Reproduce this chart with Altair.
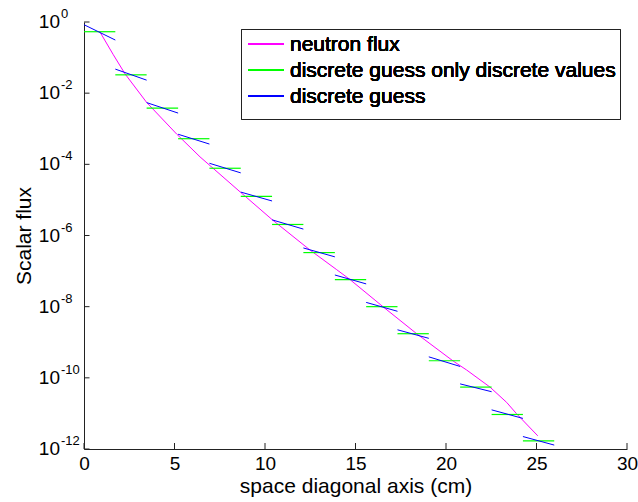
import altair as alt
import pandas as pd

# ---- data ----
cell_edges = [0.0, 1.73, 3.46, 5.20, 6.93, 8.66, 10.39, 12.12, 13.86, 15.59,
              17.32, 19.05, 20.78, 22.52, 24.25, 25.98]
# log10 of the flux values
green_log10 = [-0.273, -1.485, -2.42, -3.28, -4.11, -4.90, -5.69, -6.48, -7.24,
               -8.00, -8.76, -9.52, -10.26, -11.03, -11.77]
blue_left_log10 = [-0.076, -1.324, -2.265, -3.155, -3.97, -4.78, -5.56, -6.35,
                   -7.11, -7.88, -8.65, -9.41, -10.17, -10.90, -11.65]
blue_right_log10 = [-0.507, -1.634, -2.56, -3.43, -4.24, -5.03, -5.82, -6.60,
                    -7.36, -8.13, -8.89, -9.68, -10.39, -11.14, -11.89]
flux_x = [0.87, 1.62, 2.27, 3.46, 5.12, 6.41, 8.66, 10.43, 12.49, 13.96, 14.70,
          16.54, 18.38, 20.40, 21.14, 22.43, 23.35, 23.90, 25.07]
flux_log10 = [-0.27, -0.92, -1.46, -2.26, -3.15, -3.79, -4.79, -5.57, -6.41, -6.96,
              -7.24, -8.01, -8.76, -9.53, -9.78, -10.26, -10.69, -11.01, -11.63]
y_tick_exponents = [0, -2, -4, -6, -8, -10, -12]
x_ticks = [0, 5, 10, 15, 20, 25, 30]
legend_labels = ["neutron flux", "discrete guess only discrete values", "discrete guess"]
legend_colors = ["#FF00FF", "#00FF00", "#0000FF"]

FONT = "Liberation Sans"
W, H = 543, 427

cells = pd.DataFrame({
    "x0": cell_edges[:-1],
    "x1": cell_edges[1:],
    "g": [10 ** v for v in green_log10],
    "bl": [10 ** v for v in blue_left_log10],
    "br": [10 ** v for v in blue_right_log10],
})
flux = pd.DataFrame({"x": flux_x, "y": [10 ** v for v in flux_log10]})
yt = pd.DataFrame({"v": [10.0 ** e for e in y_tick_exponents],
                   "e": [str(e) for e in y_tick_exponents]})
xt = pd.DataFrame({"t": x_ticks})

xs = alt.Scale(domain=[0, 30], nice=False, zero=False)
ys = alt.Scale(type="log", domain=[1e-12, 1], nice=False)

x_axis = alt.Axis(values=x_ticks, ticks=False, grid=False, labelPadding=5,
                  labelFontSize=19, labelFont=FONT, labelColor="black",
                  labelFlush=False, labelOverlap=False, labelBound=False,
                  title="space diagonal axis (cm)", titleFont=FONT, titleFontSize=21,
                  titleFontWeight="normal", titleColor="black", titleY=43.5,
                  titleBaseline="alphabetic", domainColor="#222222", domainWidth=1)
y_axis = alt.Axis(values=[10.0 ** e for e in y_tick_exponents], labels=False,
                  ticks=False, grid=False, title="Scalar flux", titleFont=FONT,
                  titleFontSize=21, titleFontWeight="normal", titleColor="black",
                  titleX=-54, titleY=H / 2, titleAngle=270, titleAlign="center",
                  titleBaseline="alphabetic", domainColor="#222222", domainWidth=1)

X = lambda f: alt.X(f, scale=xs, axis=x_axis)
Y = lambda f: alt.Y(f, scale=ys, axis=y_axis)

flux_line = alt.Chart(flux).mark_line(color="#FF00FF", strokeWidth=1).encode(
    x=X("x:Q"), y=Y("y:Q"),
)
green = alt.Chart(cells).mark_rule(color="#00FF00", strokeWidth=1.2).encode(
    x=X("x0:Q"), x2="x1:Q", y=Y("g:Q"),
)
blue = alt.Chart(cells).mark_rule(color="#0000FF", strokeWidth=1).encode(
    x=X("x0:Q"), x2="x1:Q", y=Y("bl:Q"), y2="br:Q",
)
yticks = alt.Chart(yt).mark_rule(color="#222222", strokeWidth=1).encode(
    x=alt.value(0), x2=alt.value(5.5), y=Y("v:Q"),
)
xticks = alt.Chart(xt).mark_rule(color="#222222", strokeWidth=1).encode(
    x=X("t:Q"), y=alt.value(H), y2=alt.value(H - 6),
)
ybase = alt.Chart(yt).mark_text(align="right", baseline="middle", fontSize=19,
                                font=FONT, color="black").encode(
    x=alt.value(-24), y=Y("v:Q"), text=alt.value("10"),
)
yexp = alt.Chart(yt).mark_text(align="left", baseline="middle", fontSize=13,
                               font=FONT, color="black", dy=-8).encode(
    x=alt.value(-23), y=Y("v:Q"), text="e:N",
)

legend_layers = [
    alt.Chart(xt).mark_rect(fill="white", stroke="#222222", strokeWidth=1).encode(
        x=alt.value(157.5), x2=alt.value(536.5), y=alt.value(7.5), y2=alt.value(97.5))
]
for i, (lab, col) in enumerate(zip(legend_labels, legend_colors)):
    ry = 22 + 26 * i
    legend_layers.append(
        alt.Chart(xt).mark_rule(color=col, strokeWidth=1).encode(
            x=alt.value(164), x2=alt.value(200), y=alt.value(ry))
    )
    legend_layers.append(
        alt.Chart(xt).mark_text(align="left", baseline="alphabetic", fontSize=21,
                                font=FONT, color="black").encode(
            x=alt.value(206), y=alt.value(ry + 6.5), text=alt.value(lab))
    )

chart = alt.layer(flux_line, green, blue, yticks, xticks, ybase, yexp,
                  *legend_layers).properties(
    width=W, height=H,
    autosize=alt.AutoSizeParams(type="none"),
    padding={"left": 84, "top": 22, "right": 11, "bottom": 53},
    background="white",
).configure_view(strokeWidth=0)

chart.save("out.html", embed_options={"renderer": "svg", "actions": False})
